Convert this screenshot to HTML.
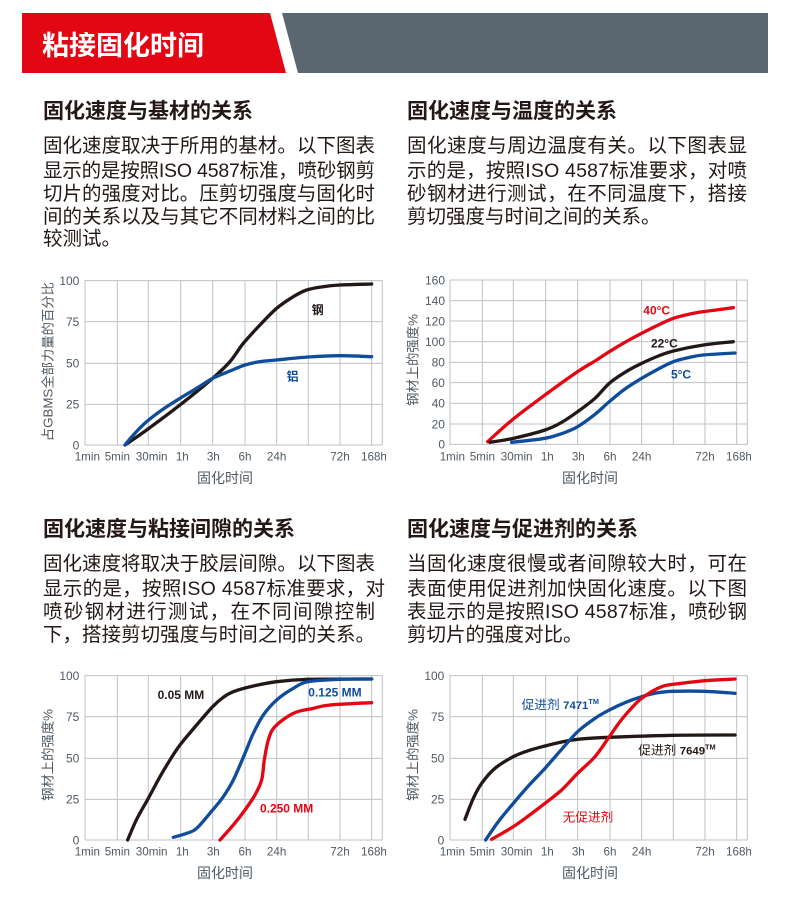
<!DOCTYPE html>
<html><head><meta charset="utf-8"><style>
html,body{margin:0;padding:0;background:#fff;}
svg{display:block;font-family:"Liberation Sans","Noto Sans CJK SC",sans-serif;}
.h{font-size:21px;font-weight:bold;fill:#231815;}
.b{font-size:19.5px;fill:#231815;}
.g{stroke:#bcc2c7;stroke-width:3;fill:none;}
.ty{font-size:36px;fill:#4f5a63;text-anchor:end;}
.tx{font-size:35px;fill:#4f5a63;text-anchor:middle;}
.at{font-size:42px;fill:#4f5a63;text-anchor:middle;}
.c{fill:none;stroke-width:10;stroke-linecap:round;stroke-linejoin:round;}
.lb{font-size:36px;font-weight:bold;}
</style></head><body>
<svg width="790" height="920" viewBox="0 0 790 920" xmlns="http://www.w3.org/2000/svg">
<polygon points="22,13 270,13 286,73 22,73" fill="#e30613"/>
<polygon points="282,13 768,13 768,73 298,73" fill="#5a6770"/>
<text x="42" y="55" font-size="27" font-weight="bold" fill="#fff">粘接固化时间</text>

<text class="h" x="43" y="118">固化速度与基材的关系</text>
<text class="b" x="43" y="152" textLength="332">固化速度取决于所用的基材。以下图表</text>
<text class="b" x="43" y="177" textLength="332">显示的是按照ISO 4587标准，喷砂钢剪</text>
<text class="b" x="43" y="200" textLength="332">切片的强度对比。压剪切强度与固化时</text>
<text class="b" x="43" y="223" textLength="332">间的关系以及与其它不同材料之间的比</text>
<text class="b" x="43" y="245">较测试。</text>

<text class="h" x="407" y="118">固化速度与温度的关系</text>
<text class="b" x="407" y="152" textLength="340">固化速度与周边温度有关。以下图表显</text>
<text class="b" x="407" y="177" textLength="340">示的是，按照ISO 4587标准要求，对喷</text>
<text class="b" x="407" y="200" textLength="340">砂钢材进行测试，在不同温度下，搭接</text>
<text class="b" x="407" y="223">剪切强度与时间之间的关系。</text>

<text class="h" x="43" y="536">固化速度与粘接间隙的关系</text>
<text class="b" x="43" y="570" textLength="332">固化速度将取决于胶层间隙。以下图表</text>
<text class="b" x="43" y="595" textLength="342">显示的是，按照ISO 4587标准要求，对</text>
<text class="b" x="43" y="618" textLength="332">喷砂钢材进行测试，在不同间隙控制</text>
<text class="b" x="43" y="641" textLength="332">下，搭接剪切强度与时间之间的关系。</text>

<text class="h" x="407" y="536">固化速度与促进剂的关系</text>
<text class="b" x="407" y="570" textLength="340">当固化速度很慢或者间隙较大时，可在</text>
<text class="b" x="407" y="595" textLength="340">表面使用促进剂加快固化速度。以下图</text>
<text class="b" x="407" y="618" textLength="340">表显示的是按照ISO 4587标准，喷砂钢</text>
<text class="b" x="407" y="641">剪切片的强度对比。</text>

<defs>
<g id="vgrid">
<path class="g" d="M165 45V540M262 45V540M355 45V540M452 45V540M548 45V540M645 45V540M740 45V540M835 45V540M930 45V540M1025 45V540M1057 45V540"/>
</g>
<g id="xlab">
<text class="tx" x="172" y="587">1min</text><text class="tx" x="262" y="587">5min</text><text class="tx" x="365" y="587">30min</text><text class="tx" x="457" y="587">1h</text><text class="tx" x="550" y="587">3h</text><text class="tx" x="645" y="587">6h</text><text class="tx" x="740" y="587">24h</text><text class="tx" x="930" y="587">72h</text><text class="tx" x="1032" y="587">168h</text>
<text class="at" x="585" y="654">固化时间</text>
</g>
<g id="g100">
<use href="#vgrid"/>
<path class="g" d="M165 47H1057M165 170H1057M165 295H1057M165 418H1057M165 540H1057"/>
<text class="ty" x="148" y="60">100</text><text class="ty" x="148" y="183">75</text><text class="ty" x="148" y="308">50</text><text class="ty" x="148" y="431">25</text><text class="ty" x="148" y="553">0</text>
<use href="#xlab"/>
</g>
<clipPath id="cp"><rect x="0" y="0" width="1068" height="690"/></clipPath>
</defs>

<!-- chart 1 -->
<g transform="translate(30,265) scale(0.3333)" clip-path="url(#cp)">
<use href="#g100"/>
<text class="at" transform="translate(68,290) rotate(-90)" style="font-size:40px">占GBMS全部力量的百分比</text>
<polyline class="c" stroke="#231815" points="285,540 350,495 450,420 548,340 600,290 640,235 690,180 740,130 790,95 830,75 880,65 930,60 1025,57"/>
<polyline class="c" stroke="#0f4c9c" points="285,540 310,510 350,470 400,432 450,400 500,370 548,340 600,318 645,300 690,290 740,285 835,276 930,272 1025,275"/>
<text class="lb" x="845" y="147" fill="#231815">钢</text>
<text class="lb" x="770" y="347" fill="#0f4c9c">铝</text>
</g>

<!-- chart 2 -->
<g transform="translate(395,265) scale(0.3333)" clip-path="url(#cp)">
<use href="#vgrid"/>
<path class="g" d="M165 45H1057M165 107H1057M165 168H1057M165 230H1057M165 292H1057M165 353H1057M165 415H1057M165 477H1057M165 538H1057"/>
<text class="ty" x="150" y="58">160</text><text class="ty" x="150" y="120">140</text><text class="ty" x="150" y="181">120</text><text class="ty" x="150" y="243">100</text><text class="ty" x="150" y="305">80</text><text class="ty" x="150" y="366">60</text><text class="ty" x="150" y="428">40</text><text class="ty" x="150" y="490">20</text><text class="ty" x="150" y="551">0</text>
<use href="#xlab"/>
<text class="at" transform="translate(68,285) rotate(-90)" style="font-size:40px">钢材上的强度%</text>
<polyline class="c" stroke="#e30613" points="278,530 355,462 450,390 548,320 600,288 643,260 690,232 740,205 790,180 835,160 880,148 925,140 1015,128"/>
<polyline class="c" stroke="#231815" points="285,532 355,520 450,495 500,472 548,440 600,400 643,355 690,322 740,295 790,273 835,258 925,240 1015,230"/>
<polyline class="c" stroke="#0f4c9c" points="350,532 450,520 500,506 548,485 600,448 643,410 690,372 740,340 790,312 835,290 880,278 925,270 1020,264"/>
<text class="lb" x="745" y="149" fill="#e30613">40°C</text>
<text class="lb" x="768" y="247" fill="#231815">22°C</text>
<text class="lb" x="828" y="340" fill="#0f4c9c">5°C</text>
</g>

<!-- chart 3 -->
<g transform="translate(30,660) scale(0.3333)" clip-path="url(#cp)">
<use href="#g100"/>
<text class="at" transform="translate(68,285) rotate(-90)" style="font-size:40px">钢材上的强度%</text>
<polyline class="c" stroke="#231815" points="293,540 320,478 355,415 390,350 420,300 450,255 500,195 548,140 580,112 610,95 670,78 740,65 835,58 1025,57"/>
<polyline class="c" stroke="#0f4c9c" points="430,532 470,520 500,505 548,450 580,410 610,360 645,280 670,220 700,165 740,120 790,85 835,65 930,58 1025,57"/>
<polyline class="c" stroke="#e30613" points="570,540 610,495 645,450 675,405 695,360 703,300 715,240 735,200 790,160 850,145 900,135 1025,128"/>
<text class="lb" x="383" y="117" fill="#231815">0.05 MM</text>
<text class="lb" x="835" y="109" fill="#0f4c9c">0.125 MM</text>
<text class="lb" x="690" y="457" fill="#e30613">0.250 MM</text>
</g>

<!-- chart 4 -->
<g transform="translate(395,660) scale(0.3333)" clip-path="url(#cp)">
<use href="#g100"/>
<text class="at" transform="translate(68,285) rotate(-90)" style="font-size:40px">钢材上的强度%</text>
<polyline class="c" stroke="#231815" points="210,478 235,415 260,370 300,325 355,290 400,272 450,258 500,246 548,238 643,232 835,226 1020,225"/>
<polyline class="c" stroke="#0f4c9c" points="272,540 310,485 355,430 400,378 450,325 500,268 548,215 600,175 643,150 690,128 740,110 790,98 835,94 930,94 1020,100"/>
<polyline class="c" stroke="#e30613" points="290,538 355,500 400,468 450,430 500,390 548,340 600,290 643,230 675,185 700,155 740,115 800,80 860,70 930,62 1020,57"/>
<text x="380" y="147" font-size="38" fill="#0f4c9c">促进剂 <tspan font-weight="bold" font-size="34">7471</tspan><tspan font-weight="bold" font-size="22" dy="-15">TM</tspan></text>
<text x="730" y="284" font-size="38" fill="#231815">促进剂 <tspan font-weight="bold" font-size="34">7649</tspan><tspan font-weight="bold" font-size="22" dy="-15">TM</tspan></text>
<text x="503" y="484" font-size="38" fill="#e30613">无促进剂</text>
</g>
</svg>
<script>
document.querySelectorAll('polyline.c').forEach(function(pl){
  var p=pl.getAttribute('points').trim().split(/\s+/).map(function(s){return s.split(',').map(Number);});
  var d='M'+p[0][0]+' '+p[0][1];
  for(var i=0;i<p.length-1;i++){
    var p0=p[i-1]||p[i],p1=p[i],p2=p[i+1],p3=p[i+2]||p2;
    var c1x=p1[0]+(p2[0]-p0[0])/6,c1y=p1[1]+(p2[1]-p0[1])/6;
    var c2x=p2[0]-(p3[0]-p1[0])/6,c2y=p2[1]-(p3[1]-p1[1])/6;
    d+=' C'+c1x+' '+c1y+' '+c2x+' '+c2y+' '+p2[0]+' '+p2[1];
  }
  var path=document.createElementNS('http://www.w3.org/2000/svg','path');
  path.setAttribute('d',d);path.setAttribute('class','c');path.setAttribute('stroke',pl.getAttribute('stroke'));
  pl.parentNode.replaceChild(path,pl);
});
</script>
</body></html>
